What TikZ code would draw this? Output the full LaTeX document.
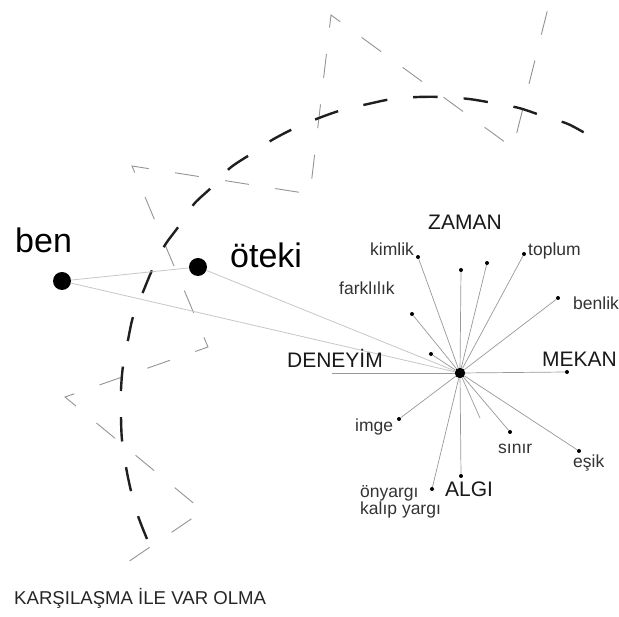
\documentclass[tikz,border=0pt]{standalone}
\usepackage{fontspec}
\setmainfont{Liberation Sans}
\begin{document}
\begin{tikzpicture}[x=1pt,y=-1pt,
  bigdot/.style={circle,fill=black,inner sep=0pt,minimum size=18pt},
  hubdot/.style={circle,fill=black,inner sep=0pt,minimum size=10.5pt},
  smalldot/.style={circle,fill=black,inner sep=0pt,minimum size=4pt},
  spoke/.style={draw=black!40,line width=0.7pt},
  faint/.style={draw=black!22,line width=0.8pt},
  zig/.style={draw=black!42,line width=0.9pt,dash pattern=on 24pt off 26.7pt,dash phase=48.7pt},
  arcdash/.style={draw=black!88,line width=2.4pt,dash pattern=on 24.5pt off 26pt},
  biglabel/.style={inner sep=0pt,font=\fontsize{34}{34}\selectfont},
  caplabel/.style={inner sep=0pt,text=black!90,font=\fontsize{21}{21}\selectfont},
  smalllabel/.style={inner sep=0pt,text=black!80,font=\fontsize{17.5}{17.5}\selectfont},
  titlelabel/.style={inner sep=0pt,text=black!85,font=\fontsize{18.6}{18.6}\selectfont}
]
\useasboundingbox (0,0) rectangle (619,617);
\fill[white] (0,0) rectangle (619,617);

% gray zigzag
\draw[zig] (128,562) -- (203,511) -- (65,397) -- (208,347) -- (132,166) -- (310,194) -- (331,15) -- (513,148) -- (550,0);

% thick dashed arc
\draw[arcdash] plot[smooth] coordinates {(147,539) (138,516) (131,491) (126,467) (122,440) (121,417) (121,390) (123,366) (128,340) (133,317) (143,292) (153,268) (165,245) (179,226) (194,204) (212,187) (230,168) (251,154) (272,140) (295,128) (319,118) (342,110) (368,104) (392,99) (418,97) (443,97) (469,99) (493,103) (519,108) (543,116) (568,124) (590,136)};

% nodes
\node[bigdot] (ben) at (62,281) {};
\node[bigdot] (oteki) at (198,267) {};
\node[hubdot] (hub) at (460,373) {};

\node[smalldot] (dkimlik) at (418,257) {};
\node[smalldot] (dz1) at (461,270) {};
\node[smalldot] (dz2) at (487,263) {};
\node[smalldot] (dtoplum) at (524,254) {};
\node[smalldot] (dbenlik) at (558,298) {};
\node[smalldot] (dfark) at (412,314) {};
\node[smalldot] (dd) at (431,354) {};
\node[smalldot] (dmekan) at (567,372) {};
\coordinate (dden) at (332,373);
\node[smalldot] (dimge) at (399,419) {};
\node[smalldot] (dony) at (432,489) {};
\node[smalldot] (dalgi) at (461,476) {};
\coordinate (dlow) at (480,418);
\node[smalldot] (dsinir) at (510,432) {};
\node[smalldot] (desik) at (579,451) {};

% connectors
\draw[faint] (ben) -- (oteki);
\draw[faint] (ben) -- (hub);
\draw[faint] (oteki) -- (hub);
\foreach \t in {dkimlik,dz1,dz2,dtoplum,dbenlik,dfark,dd,dmekan,dden,dimge,dony,dalgi,dlow,dsinir,desik}
  \draw[spoke] (hub) -- (\t);

% labels
\node[biglabel,anchor=base west] (tben) at (15,253) {ben};
\node[biglabel,anchor=base west] (toteki) at (230,268) {öteki};
\node[caplabel,anchor=base west] (tzaman) at (428,230) {ZAMAN};
\node[caplabel,anchor=base east] (tdeneyim) at (383,368) {DENEYİM};
\node[caplabel,anchor=base west] (tmekan) at (542,367) {MEKAN};
\node[caplabel,anchor=base west] (talgi) at (445,497) {ALGI};
\node[smalllabel,anchor=base west] (tkimlik) at (370,256) {kimlik};
\node[smalllabel,anchor=base west] (ttoplum) at (528,256) {toplum};
\node[smalllabel,anchor=base west] (tfark) at (339,295) {farklılık};
\node[smalllabel,anchor=base west] (tbenlik) at (573,310) {benlik};
\node[smalllabel,anchor=base west] (timge) at (355,432) {imge};
\node[smalllabel,anchor=base west] (tsinir) at (498,454) {sınır};
\node[smalllabel,anchor=base west] (tesik) at (573,468) {eşik};
\node[smalllabel,anchor=base west] (tony) at (360,498) {önyargı};
\node[smalllabel,anchor=base west] (tkalip) at (360,515) {kalıp yargı};
\node[titlelabel,anchor=base west] (title) at (14,605) {KARŞILAŞMA İLE VAR OLMA};
\end{tikzpicture}
\end{document}
